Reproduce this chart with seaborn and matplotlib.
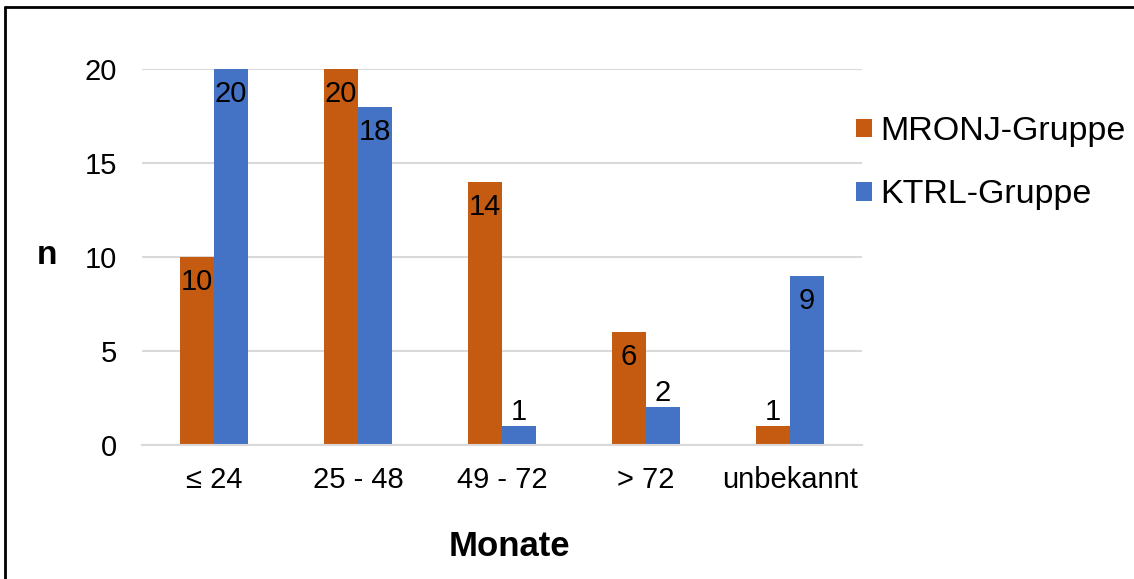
import matplotlib
matplotlib.use("Agg")
import matplotlib.pyplot as plt
from matplotlib.lines import Line2D
from matplotlib.patches import Patch
import pandas as pd
import seaborn as sns

categories = ["\u2264 24", "25 - 48", "49 - 72", "> 72", "unbekannt"]
mronj = [10, 20, 14, 6, 1]
ktrl = [20, 18, 1, 2, 9]
groups = ["MRONJ-Gruppe", "KTRL-Gruppe"]
colors = ["#C55A11", "#4472C4"]

df = pd.DataFrame({
    "Monate": categories * 2,
    "n": mronj + ktrl,
    "Gruppe": [groups[0]] * len(categories) + [groups[1]] * len(categories),
})

sns.set_theme(style="white")
plt.rcParams["font.family"] = ["Liberation Sans", "DejaVu Sans"]
plt.rcParams["text.color"] = "black"

fig = plt.figure(figsize=(11.34, 5.79), dpi=100)
ax = fig.add_axes([142 / 1134, 1 - 445 / 579, 720 / 1134, 376 / 579])

sns.barplot(data=df, x="Monate", y="n", hue="Gruppe", order=categories,
            hue_order=groups, palette=colors, width=0.47, linewidth=0,
            saturation=1, ax=ax, legend=False)

ax.set_ylim(0, 20)
ax.set_xlim(-0.5, len(categories) - 0.5)
ax.set_yticks([0, 5, 10, 15, 20])
ax.yaxis.grid(True, color="#d9d9d9", linewidth=1.5)
ax.set_axisbelow(True)
for side in ["top", "right", "left"]:
    ax.spines[side].set_visible(False)
ax.spines["bottom"].set_color("#d9d9d9")
ax.spines["bottom"].set_linewidth(1.5)
ax.tick_params(axis="both", length=0, labelsize=21, colors="black")
ax.tick_params(axis="y", pad=18)
ax.tick_params(axis="x", pad=15)

ax.set_xlabel("Monate", fontsize=25, fontweight="bold", color="black",
              va="center")
ax.xaxis.set_label_coords(0.511, -0.271)
ax.set_ylabel("n", fontsize=24, fontweight="bold", rotation=0,
              color="black", va="center", ha="center")
ax.yaxis.set_label_coords(-0.132, 0.505)

# value labels: inside the bar end, or just above short bars
for container in ax.containers:
    for bar in container:
        h = bar.get_height()
        xc = bar.get_x() + bar.get_width() / 2
        if h >= 5:
            ax.annotate(f"{h:g}", (xc, h), xytext=(0, -8),
                        textcoords="offset points", ha="center", va="top",
                        fontsize=21, color="black")
        else:
            ax.annotate(f"{h:g}", (xc, h), xytext=(0, 0),
                        textcoords="offset points", ha="center", va="bottom",
                        fontsize=21, color="black")

handles = [Patch(facecolor=c, edgecolor="none") for c in colors]
fig.legend(handles, groups, loc="upper left",
           bbox_to_anchor=(856 / 1134, 1 - 116 / 579), frameon=False,
           fontsize=24.5, handlelength=0.47, handleheight=0.47,
           handletextpad=0.25, labelspacing=0.95, borderaxespad=0,
           borderpad=0)

# outer frame of the chart area
fig.add_artist(Line2D([5 / 1134, 1.01], [1 - 7 / 579] * 2,
                      transform=fig.transFigure, color="black", linewidth=2))
fig.add_artist(Line2D([5 / 1134] * 2, [-0.01, 1 - 7 / 579],
                      transform=fig.transFigure, color="black", linewidth=2))

fig.savefig("out.png", dpi=100)
